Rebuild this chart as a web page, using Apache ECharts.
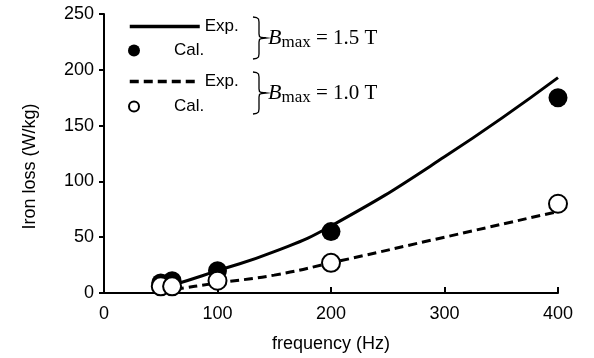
<!DOCTYPE html>
<html>
<head>
<meta charset="utf-8">
<script src="https://cdn.jsdelivr.net/npm/echarts@6/dist/echarts.min.js"></script>
<style>
  html, body { margin: 0; padding: 0; background: #fff; }
  #chart { width: 594px; height: 358px; }
</style>
</head>
<body>
<div id="chart"></div>
<script>
const expFreqs = [50, 60, 100, 150, 200, 300, 400];
const exp15 = [5, 7, 20, 37, 60, 122, 193];
const exp10 = [2, 3, 9, 16, 27, 50, 73];

// calculated points (Cal.)
const calFreqs = [50, 60, 100, 200, 400];
const cal15 = [9, 11, 20, 55, 175];
const cal10 = [6, 6, 11, 27, 80];

const xTicks = [0, 100, 200, 300, 400];
const yTicks = [0, 50, 100, 150, 200, 250];

const font = "'Liberation Sans', Arial, sans-serif";
const serif = "'Liberation Serif', 'Times New Roman', serif";

const pairs = (xs, ys) => xs.map((f, i) => [f, ys[i]]);

const chart = echarts.init(document.getElementById("chart"), null, { renderer: "canvas" });

const legendBase = {
  orient: "vertical",
  left: 128,
  padding: 0,
  itemWidth: 70,
  itemGap: 0,
  selectedMode: false,
  formatter: (name) => name.split(" ")[0],
  textStyle: { color: "#000", fontFamily: font, fontSize: 17 },
};

// brace: top hook, point to the right at the middle, bottom hook
const bracePts = [[0, 0], [3.5, 0.5], [5.5, 2], [6, 5], [6, 17], [6.5, 19.5], [8.5, 20.5], [13, 21],
  [8.5, 21.5], [6.5, 22.5], [6, 25], [6, 37], [5.5, 40], [3.5, 41.5], [0, 42]];

const brace = (x, y) => ({
  type: "polyline",
  x: x,
  y: y,
  shape: { points: bracePts },
  style: { fill: null, stroke: "#000", lineWidth: 1.3 },
});

const bmaxText = (label, x, y) => ({
  type: "text",
  x: x,
  y: y,
  style: {
    text: "{b|B}{s|max}{n| = " + label + "}",
    rich: {
      b: { fontFamily: serif, fontStyle: "italic", fontSize: 22, fill: "#000" },
      s: { fontFamily: serif, fontSize: 17, fill: "#000", padding: [8, 0, 0, 0] },
      n: { fontFamily: serif, fontSize: 21, fill: "#000" },
    },
  },
});

chart.setOption({
  animation: false,
  backgroundColor: "#fff",
  grid: { left: 104, right: 36, top: 14, bottom: 65 },
  xAxis: {
    type: "value",
    min: xTicks[0],
    max: xTicks[xTicks.length - 1],
    interval: 100,
    name: "frequency (Hz)",
    nameLocation: "middle",
    nameGap: 42,
    nameTextStyle: { color: "#000", fontFamily: font, fontSize: 18 },
    axisLine: { lineStyle: { color: "#000", width: 2 } },
    axisTick: { show: true, inside: true, length: 6, lineStyle: { color: "#000", width: 2 } },
    axisLabel: { color: "#000", fontFamily: font, fontSize: 18, margin: 12 },
    splitLine: { show: false },
  },
  yAxis: {
    type: "value",
    min: yTicks[0],
    max: yTicks[yTicks.length - 1],
    interval: 50,
    name: "Iron loss (W/kg)",
    nameLocation: "middle",
    nameGap: 65,
    nameTextStyle: { color: "#000", fontFamily: font, fontSize: 18, padding: [0, 26, 0, 0] },
    axisLine: { show: true, lineStyle: { color: "#000", width: 2 } },
    axisTick: { show: true, inside: false, length: 5, lineStyle: { color: "#000", width: 2 } },
    axisLabel: { color: "#000", fontFamily: font, fontSize: 18, margin: 10 },
    splitLine: { show: false },
  },
  legend: [
    Object.assign({}, legendBase, { top: 18, itemHeight: 12, itemStyle: { opacity: 0 }, lineStyle: { width: 3.5 }, data: ["Exp. 1.5"] }),
    Object.assign({}, legendBase, { top: 42, itemHeight: 12, data: ["Cal. 1.5"] }),
    Object.assign({}, legendBase, { top: 73, itemHeight: 12, itemStyle: { opacity: 0 }, lineStyle: { width: 3.5 }, data: ["Exp. 1.0"] }),
    Object.assign({}, legendBase, { top: 98, itemHeight: 10, data: ["Cal. 1.0"] }),
  ],
  graphic: [
    brace(253, 17),
    brace(253, 72),
    bmaxText("1.5 T", 268, 26),
    bmaxText("1.0 T", 268, 81),
  ],
  series: [
    {
      name: "Exp. 1.5",
      type: "line",
      data: pairs(expFreqs, exp15),
      smooth: 0.5,
      symbol: "none",
      color: "#000",
      lineStyle: { color: "#000", width: 3 },
      z: 2,
    },
    {
      name: "Cal. 1.5",
      type: "scatter",
      data: pairs(calFreqs, cal15),
      symbol: "circle",
      symbolSize: 19,
      itemStyle: { color: "#000", opacity: 1 },
      z: 3,
    },
    {
      name: "Exp. 1.0",
      type: "line",
      data: pairs(expFreqs, exp10),
      smooth: 0.5,
      symbol: "none",
      color: "#000",
      lineStyle: { color: "#000", width: 3, type: [9, 5] },
      z: 4,
    },
    {
      name: "Cal. 1.0",
      type: "scatter",
      data: pairs(calFreqs, cal10),
      symbol: "circle",
      symbolSize: 18,
      itemStyle: { color: "#fff", borderColor: "#000", borderWidth: 2, opacity: 1 },
      z: 5,
    },
  ],
});
</script>
</body>
</html>
